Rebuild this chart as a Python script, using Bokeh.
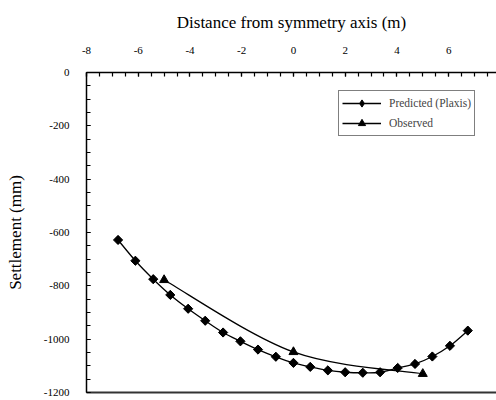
import numpy as np
from bokeh.plotting import figure
from bokeh.models import (LinearAxis, SingleIntervalTicker, FixedTicker, Range1d,
                          ColumnDataSource, Legend, LegendItem, PrintfTickFormatter)
from bokeh.embed import file_html
from bokeh.resources import INLINE

# Settlement profiles across the embankment
pred_x = [-6.78, -6.11, -5.42, -4.76, -4.07, -3.41, -2.72, -2.05, -1.37, -0.68, 0.0,
          0.65, 1.33, 2.0, 2.68, 3.35, 4.03, 4.70, 5.37, 6.05, 6.74]
pred_y = [-628, -706, -775, -834, -886, -931, -975, -1008, -1039, -1066, -1089,
          -1104, -1117, -1124, -1126, -1124, -1108, -1093, -1065, -1025, -968]
obs_x = [-5.0, 0.0, 5.0]
obs_y = [-778, -1048, -1130]

FONT = "Liberation Serif"


def smooth_segments(xs, ys):
    """Cubic Bezier pieces (Catmull-Rom style) joining consecutive points."""
    x = np.asarray(xs, float)
    y = np.asarray(ys, float)
    n = len(x)
    seg = dict(x0=[], y0=[], x1=[], y1=[], cx0=[], cy0=[], cx1=[], cy1=[])
    for i in range(n - 1):
        a = max(i - 1, 0)
        d = min(i + 2, n - 1)
        seg["x0"].append(x[i]); seg["y0"].append(y[i])
        seg["x1"].append(x[i + 1]); seg["y1"].append(y[i + 1])
        seg["cx0"].append(x[i] + (x[i + 1] - x[a]) / 6)
        seg["cy0"].append(y[i] + (y[i + 1] - y[a]) / 6)
        seg["cx1"].append(x[i + 1] - (x[d] - x[i]) / 6)
        seg["cy1"].append(y[i + 1] - (y[d] - y[i]) / 6)
    return ColumnDataSource(seg)


p = figure(width=496, height=400, output_backend="svg", toolbar_location=None,
           x_range=Range1d(-8, 7.85), y_range=Range1d(-1200, 0),
           x_axis_location=None, y_axis_location=None,
           min_border_left=86, min_border_right=0, min_border_top=72,
           min_border_bottom=8)
p.outline_line_color = None
p.xgrid.visible = False
p.ygrid.visible = False
p.background_fill_color = "white"
p.border_fill_color = "white"

tick_font = "11px"
title_font = "17px"

top = LinearAxis(ticker=SingleIntervalTicker(interval=2, num_minor_ticks=4),
                 formatter=PrintfTickFormatter(format="%d"),
                 axis_label="Distance from symmetry axis (m)")
left = LinearAxis(ticker=SingleIntervalTicker(interval=200, num_minor_ticks=4),
                  formatter=PrintfTickFormatter(format="%d"),
                  axis_label="Settlement (mm)")
for ax in (top, left):
    ax.axis_line_color = "black"
    ax.axis_line_width = 1.5
    ax.major_tick_in = 4
    ax.major_tick_out = 0
    ax.minor_tick_in = 4
    ax.minor_tick_out = 0
    ax.major_tick_line_width = 1.2
    ax.minor_tick_line_width = 1.2
    ax.major_label_text_font = FONT
    ax.major_label_text_font_size = tick_font
    ax.major_label_text_color = "black"
    ax.axis_label_text_font = FONT
    ax.axis_label_text_font_size = title_font
    ax.axis_label_text_font_style = "normal"
    ax.axis_label_text_color = "black"
top.major_label_standoff = 19
top.axis_label_standoff = 12
left.major_label_standoff = 17
left.axis_label_standoff = 16
p.add_layout(top, "above")
p.add_layout(left, "left")

bottom = LinearAxis(ticker=FixedTicker(ticks=[]))
bottom.axis_line_color = "#333333"
bottom.axis_line_width = 2
bottom.major_tick_line_color = None
bottom.minor_tick_line_color = None
p.add_layout(bottom, "below")

pred_src = smooth_segments(pred_x, pred_y)
obs_src = smooth_segments(obs_x, obs_y)

pred_line = p.bezier(x0="x0", y0="y0", x1="x1", y1="y1", cx0="cx0", cy0="cy0",
                     cx1="cx1", cy1="cy1", source=pred_src,
                     line_color="black", line_width=1.3)
# diamond symbol used by the legend key; sits beneath the rotated squares
pred_key = p.scatter(pred_x, pred_y, marker="diamond", size=8,
                     fill_color="black", line_color="black")
pred_pts = p.scatter(pred_x, pred_y, marker="square", angle=np.pi / 4, size=6.5,
                     fill_color="black", line_color="black")
obs_line = p.bezier(x0="x0", y0="y0", x1="x1", y1="y1", cx0="cx0", cy0="cy0",
                    cx1="cx1", cy1="cy1", source=obs_src,
                    line_color="black", line_width=1.3)
obs_pts = p.scatter(obs_x, obs_y, marker="triangle", size=9,
                    fill_color="black", line_color="black")

legend = Legend(items=[
    LegendItem(label="Predicted (Plaxis)", renderers=[pred_line, pred_key]),
    LegendItem(label="Observed", renderers=[obs_line, obs_pts]),
], location=(252, 256))
legend.border_line_color = "black"
legend.border_line_width = 1
legend.background_fill_alpha = 1
legend.label_text_font = FONT
legend.label_text_font_size = "11.5px"
legend.glyph_width = 39
legend.glyph_height = 18
legend.label_height = 18
legend.label_standoff = 8
legend.spacing = 2
legend.padding = 3
legend.margin = 0
p.add_layout(legend, "center")

open("out.html", "w").write(file_html(p, INLINE))
